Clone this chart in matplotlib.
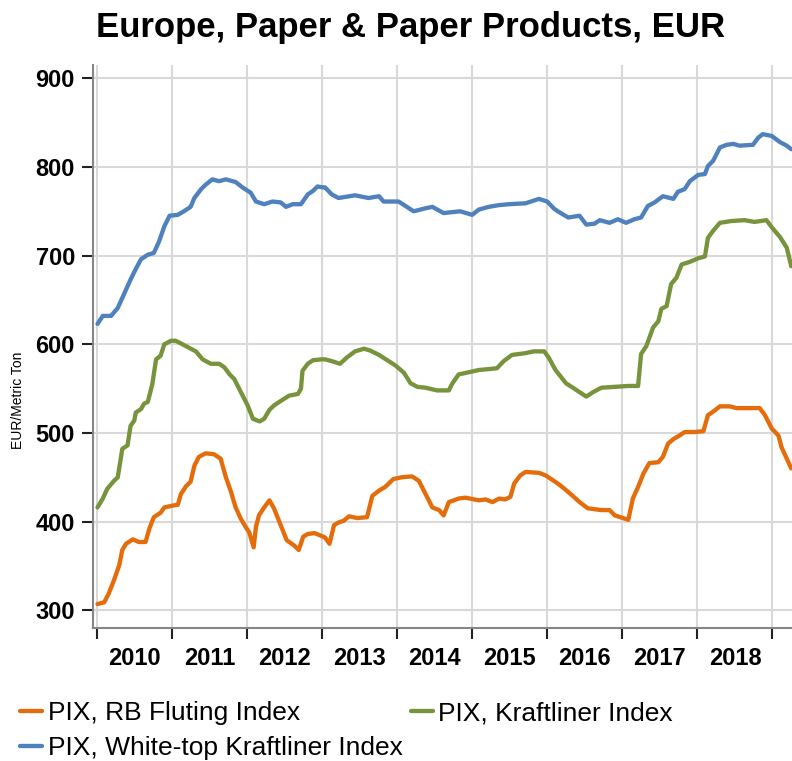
import matplotlib
matplotlib.use("Agg")
import matplotlib.pyplot as plt
from matplotlib.ticker import FixedLocator, NullFormatter, FixedFormatter

plt.rcParams['font.family'] = ['Liberation Sans Narrow', 'Liberation Sans', 'DejaVu Sans']

title = "Europe, Paper & Paper Products, EUR"
ylabel = "EUR/Metric Ton"
year_labels = ["2010", "2011", "2012", "2013", "2014", "2015", "2016", "2017", "2018"]
y_ticks = [300, 400, 500, 600, 700, 800, 900]

white_x = [2010.01, 2010.08, 2010.19, 2010.28, 2010.36, 2010.45, 2010.52, 2010.59, 2010.68, 2010.76,
           2010.83, 2010.90, 2010.97, 2011.08, 2011.16, 2011.25, 2011.30, 2011.39, 2011.45, 2011.54,
           2011.63, 2011.72, 2011.85, 2011.94, 2012.05, 2012.12, 2012.23, 2012.34, 2012.45, 2012.52,
           2012.61, 2012.72, 2012.81, 2012.88, 2012.94, 2013.01,
           2013.04, 2013.13, 2013.22, 2013.44, 2013.62, 2013.76, 2013.82, 2014.02, 2014.13, 2014.22,
           2014.36, 2014.47, 2014.62, 2014.73, 2014.84, 2015.00, 2015.09, 2015.22, 2015.36, 2015.49,
           2015.71, 2015.89, 2016.00, 2016.09,
           2016.14, 2016.28, 2016.43, 2016.52, 2016.63, 2016.70, 2016.83, 2016.94, 2017.05, 2017.16,
           2017.25, 2017.34, 2017.43, 2017.54, 2017.68, 2017.74, 2017.83, 2017.90, 2018.01, 2018.10,
           2018.14, 2018.21, 2018.30, 2018.39, 2018.48, 2018.56, 2018.74, 2018.81, 2018.87, 2018.99,
           2019.10, 2019.19, 2019.25]
white_y = [623, 632, 632, 641, 656, 673, 685, 696, 701, 703,
           716, 733, 745, 746, 750, 755, 765, 775, 780, 786,
           784, 786, 783, 777, 771, 761, 758, 761, 760, 755,
           758, 758, 769, 773, 778, 777,
           777, 769, 765, 768, 765, 767, 761, 761, 755, 750,
           753, 755, 748, 749, 750, 746, 752, 755, 757, 758,
           759, 764, 761, 753,
           750, 743, 745, 735, 736, 740, 737, 741, 737, 741,
           743, 756, 760, 767, 764, 772, 775, 784, 791, 792,
           801, 807, 822, 825, 826, 824, 825, 833, 837, 835,
           828, 824, 820]

kraft_x = [2010.01, 2010.08, 2010.14, 2010.23, 2010.28, 2010.34, 2010.41, 2010.45, 2010.50, 2010.52,
           2010.59, 2010.63, 2010.68, 2010.74, 2010.79, 2010.85, 2010.90, 2010.99, 2011.05, 2011.12,
           2011.23, 2011.32, 2011.41, 2011.52, 2011.63, 2011.70, 2011.77, 2011.83, 2011.92, 2012.01,
           2012.08, 2012.17, 2012.23, 2012.30, 2012.36, 2012.45, 2012.56, 2012.68, 2012.72, 2012.74,
           2012.81, 2012.88, 2012.99,
           2013.04, 2013.13, 2013.24, 2013.33, 2013.44, 2013.56, 2013.64, 2013.76, 2013.87, 2013.98,
           2014.09, 2014.18, 2014.27, 2014.38, 2014.53, 2014.69, 2014.73, 2014.82, 2014.93, 2015.09,
           2015.22, 2015.33, 2015.42, 2015.53, 2015.71, 2015.82, 2015.96, 2016.02, 2016.11,
           2016.25, 2016.36, 2016.52, 2016.61, 2016.72, 2016.90, 2017.08, 2017.21, 2017.25, 2017.32,
           2017.41, 2017.48, 2017.52, 2017.59, 2017.65, 2017.72, 2017.79, 2017.90, 2018.01, 2018.10,
           2018.14, 2018.21, 2018.30, 2018.45, 2018.63, 2018.76, 2018.92, 2018.99, 2019.10, 2019.19,
           2019.25]
kraft_y = [416, 426, 437, 446, 450, 482, 486, 508, 514, 523,
           527, 533, 535, 555, 583, 587, 600, 604, 604, 601,
           596, 592, 583, 578, 578, 574, 566, 561, 546, 531,
           516, 513, 516, 526, 531, 536, 542, 544, 550, 570,
           578, 582, 583,
           583, 581, 578, 585, 592, 595, 593, 588, 582, 576,
           568, 556, 552, 551, 548, 548, 555, 566, 568, 571,
           572, 573, 581, 588, 590, 592, 592, 585, 571,
           556, 550, 541, 546, 551, 552, 553, 553, 589, 598,
           619, 626, 640, 643, 668, 675, 690, 693, 697, 699,
           720, 728, 737, 739, 740, 738, 740, 732, 721, 709,
           688]

flute_x = [2010.01, 2010.10, 2010.16, 2010.23, 2010.30, 2010.34, 2010.39, 2010.48, 2010.56, 2010.65,
           2010.70, 2010.76, 2010.85, 2010.90, 2011.01, 2011.08, 2011.12, 2011.19, 2011.25, 2011.30,
           2011.36, 2011.45, 2011.56, 2011.65, 2011.72, 2011.79, 2011.85, 2011.92, 2011.99, 2012.03,
           2012.09, 2012.12, 2012.16, 2012.23, 2012.30, 2012.36, 2012.45, 2012.53, 2012.63, 2012.69,
           2012.75, 2012.81, 2012.90, 2012.99,
           2013.04, 2013.10, 2013.16, 2013.22, 2013.29, 2013.36, 2013.47, 2013.60, 2013.67, 2013.76,
           2013.84, 2013.95, 2014.06, 2014.20, 2014.29, 2014.38, 2014.47, 2014.56, 2014.62, 2014.69,
           2014.82, 2014.91, 2015.09, 2015.18, 2015.27, 2015.36, 2015.44, 2015.51, 2015.56, 2015.64,
           2015.71, 2015.89, 2015.98, 2016.07,
           2016.14, 2016.23, 2016.34, 2016.43, 2016.54, 2016.72, 2016.83, 2016.90, 2017.01, 2017.08,
           2017.14, 2017.21, 2017.28, 2017.36, 2017.48, 2017.54, 2017.61, 2017.68, 2017.76, 2017.83,
           2017.96, 2018.08, 2018.14, 2018.21, 2018.30, 2018.43, 2018.52, 2018.68, 2018.83, 2018.90,
           2018.99, 2019.08, 2019.12, 2019.19, 2019.25]
flute_y = [307, 309, 319, 334, 351, 368, 375, 380, 377, 377,
           392, 405, 410, 416, 418, 419, 431, 440, 445, 463,
           473, 477, 476, 471, 450, 433, 416, 403, 393, 388,
           371, 394, 407, 416, 424, 415, 396, 379, 373, 368,
           383, 386, 387, 384,
           382, 375, 396, 399, 401, 406, 404, 405, 429, 435,
           439, 448, 450, 451, 446, 431, 416, 413, 407, 422,
           426, 427, 424, 425, 422, 426, 425, 428, 443, 452,
           456, 455, 452, 447,
           443, 437, 429, 422, 415, 413, 413, 407, 404, 402,
           426, 439, 454, 466, 467, 473, 488, 493, 497, 501,
           501, 502, 520, 524, 530, 530, 528, 528, 528, 520,
           505, 497, 484, 471, 460]

c_orange = "#E46C0A"
c_green = "#77933C"
c_blue = "#4F81BD"

fig = plt.figure(figsize=(7.92, 7.61), dpi=100)
ax = fig.add_axes([93/792, 1 - 628/761, 1 - 93/792, (628 - 65)/761])

lw = 3.1
l_or, = ax.plot(flute_x, flute_y, color=c_orange, lw=lw, label="PIX, RB Fluting Index", solid_capstyle='round', zorder=3)
l_gr, = ax.plot(kraft_x, kraft_y, color=c_green, lw=lw, label="PIX, Kraftliner Index", solid_capstyle='round', zorder=3)
l_bl, = ax.plot(white_x, white_y, color=c_blue, lw=lw, label="PIX, White-top Kraftliner Index", solid_capstyle='round', zorder=3)

ax.set_xlim(2009.95, 2019.26)
ax.set_ylim(280, 915)

# x axis: ticks at year boundaries, labels centered in years
ax.xaxis.set_major_locator(FixedLocator(list(range(2010, 2020))))
ax.xaxis.set_major_formatter(NullFormatter())
ax.xaxis.set_minor_locator(FixedLocator([int(y) + 0.5 for y in year_labels]))
ax.xaxis.set_minor_formatter(FixedFormatter(year_labels))
ax.tick_params(axis='x', which='major', direction='out', length=8, width=1.5, color='#222222')
ax.tick_params(axis='x', which='minor', length=0, pad=14, labelsize=17)
for t in ax.xaxis.get_minorticklabels():
    t.set_fontweight('bold')

ax.set_yticks(y_ticks)
ax.tick_params(axis='y', direction='out', length=8, width=1.5, color='#222222', labelsize=17, pad=5)
for t in ax.get_yticklabels():
    t.set_fontweight('bold')

ax.grid(True, which='major', color='#D9D9D9', lw=1.5, zorder=0)
ax.set_axisbelow(True)

for s in ['top', 'right']:
    ax.spines[s].set_visible(False)
for s in ['left', 'bottom']:
    ax.spines[s].set_color('#868686')
    ax.spines[s].set_linewidth(1.5)

fig.text(18/792, 1 - 400/761, ylabel, rotation=90, va='center', ha='center', fontsize=10)
fig.text(411/792, 1 - 28/761, title, ha='center', va='center', fontsize=25, fontweight='bold')

fig.legend(handles=[l_or, l_bl, l_gr], loc='upper left', bbox_to_anchor=(20/792, 1 - 701/761), ncol=2,
           frameon=False, fontsize=19, handlelength=0.85, handletextpad=0.2, columnspacing=0.3,
           labelspacing=0.42, borderaxespad=0, borderpad=0)

fig.savefig("out.png", dpi=100)
